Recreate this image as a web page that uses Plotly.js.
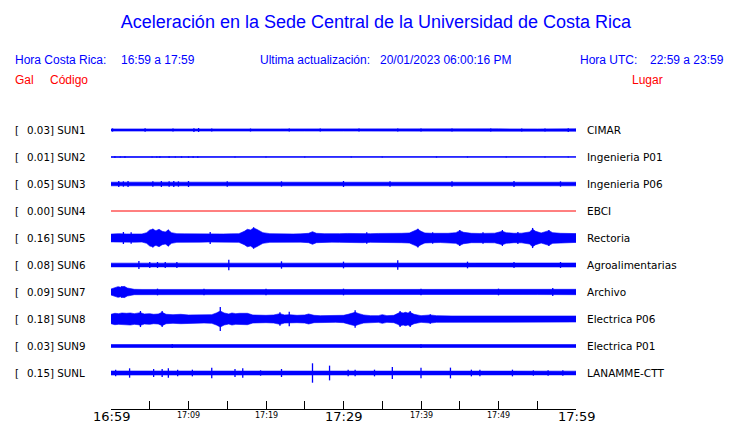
<!DOCTYPE html>
<html><head><meta charset="utf-8">
<script src="https://cdn.plot.ly/plotly-3.0.1.min.js"></script>
<style>html,body{margin:0;padding:0;background:#fff}#c{width:740px;height:423px}</style>
</head><body><div id="c"></div><script>
// ---- data ----
const codes  = ["SUN1","SUN2","SUN3","SUN4","SUN5","SUN6","SUN7","SUN8","SUN9","SUNL"];
const places = ["CIMAR","Ingenieria P01","Ingenieria P06","EBCI","Rectoria","Agroalimentarias","Archivo","Electrica P06","Electrica P01","LANAMME-CTT"];
const galMax = [0.03,0.01,0.05,0.00,0.16,0.08,0.09,0.18,0.03,0.15];

// envelope of the dense body of each record: [minutes after 16:59, half-amplitude in Gal]
const envSUN1 = [[0,0.016],[5,0.017],[10,0.016],[15,0.016],[20,0.017],[25,0.016],[30,0.016],[35,0.017],[40,0.016],[45,0.016],[50,0.017],[55,0.016],[60,0.018]];
const envSUN2 = [[0,0.002],[60,0.002]];
const envSUN3 = [[0,0.027],[1,0.030],[2,0.028],[5,0.028],[8,0.029],[12,0.027],[20,0.027],[30,0.027],[40,0.027],[50,0.027],[60,0.027]];
const envSUN5 = [[0,0.058],[1,0.065],[2,0.060],[3,0.062],[4,0.060],[4.6,0.080],[5.0,0.120],[5.4,0.130],[5.8,0.110],[6.2,0.130],[6.6,0.100],[7.0,0.090],[7.4,0.120],[7.8,0.080],[8.5,0.065],[9.5,0.062],[10.5,0.060],[11.5,0.062],[12.5,0.060],[13.5,0.058],[14.5,0.060],[15.5,0.062],[16.5,0.065],[17.2,0.100],[17.6,0.130],[18.0,0.120],[18.4,0.150],[18.8,0.130],[19.2,0.110],[19.6,0.080],[20.5,0.065],[21.5,0.060],[22.5,0.062],[23.5,0.060],[24.5,0.062],[25.5,0.070],[26.0,0.095],[26.5,0.070],[27.5,0.065],[28.5,0.062],[29.5,0.065],[30.5,0.068],[31.5,0.065],[32.5,0.070],[33.5,0.065],[34.5,0.068],[35.5,0.065],[36.5,0.068],[37.5,0.070],[38.5,0.075],[39.2,0.110],[39.6,0.130],[40.0,0.100],[40.5,0.075],[41.5,0.070],[42.5,0.068],[43.5,0.070],[44.5,0.080],[45.0,0.110],[45.5,0.085],[46.5,0.070],[47.5,0.068],[48.5,0.070],[49.5,0.072],[50.5,0.100],[51.0,0.080],[52.0,0.070],[53.0,0.072],[54.0,0.090],[54.4,0.130],[54.8,0.100],[55.5,0.075],[56.5,0.110],[57.0,0.080],[58.0,0.070],[59.0,0.068],[60,0.066]];
const envSUN6 = [[0,0.028],[3,0.030],[6,0.030],[10,0.028],[20,0.028],[30,0.028],[40,0.028],[50,0.028],[60,0.030]];
const envSUN7 = [[0,0.045],[0.5,0.060],[0.9,0.080],[1.3,0.070],[1.7,0.085],[2.1,0.060],[2.6,0.050],[3.0,0.040],[4,0.038],[6,0.040],[8,0.037],[12,0.038],[20,0.037],[30,0.037],[40,0.037],[50,0.037],[55,0.038],[58,0.042],[60,0.040]];
const envSUN8 = [[0,0.070],[0.5,0.085],[1.0,0.080],[1.4,0.090],[2.0,0.085],[2.5,0.090],[3.0,0.080],[3.5,0.085],[3.8,0.095],[4.3,0.075],[5.0,0.080],[5.5,0.070],[6.1,0.075],[6.6,0.100],[7.1,0.070],[8,0.065],[9,0.070],[10,0.060],[11,0.065],[12,0.060],[13,0.065],[13.6,0.090],[14.1,0.120],[14.6,0.090],[15.2,0.075],[15.6,0.090],[16.1,0.080],[16.6,0.085],[17.1,0.080],[17.6,0.085],[18.3,0.060],[19,0.055],[20,0.055],[21,0.060],[21.8,0.080],[22.4,0.060],[23,0.065],[24,0.055],[25,0.060],[25.5,0.075],[26.2,0.055],[27,0.050],[28,0.050],[29,0.050],[30,0.055],[30.6,0.070],[31.1,0.090],[31.5,0.100],[32,0.080],[32.6,0.060],[33.5,0.050],[34.5,0.050],[35,0.065],[35.6,0.050],[36.5,0.055],[37,0.080],[37.3,0.100],[37.7,0.090],[38,0.100],[38.3,0.090],[38.6,0.100],[39.1,0.070],[40,0.050],[41.2,0.060],[42,0.050],[44,0.045],[46,0.045],[48,0.045],[50,0.045],[52,0.045],[54,0.040],[56,0.040],[58,0.045],[60,0.045]];
const envSUN9 = [[0,0.022],[60,0.022]];
const envSUNL = [[0,0.030],[5,0.030],[10,0.028],[20,0.028],[30,0.028],[40,0.028],[50,0.028],[60,0.028]];

// isolated thin peaks: [minutes, half-amplitude in Gal]
const spkSUN1 = [[0.2,0.024],[4.4,0.026],[8.0,0.022],[10.7,0.028],[11.3,0.030],[13.0,0.024],[18.0,0.022],[23.0,0.024],[27.0,0.022],[32.0,0.024],[37.0,0.022],[40.0,0.024],[44.0,0.022],[49.0,0.024],[53.0,0.022],[56.0,0.024],[59.0,0.028]];
const spkSUN2 = [[0.5,0.010],[1.2,0.009],[1.8,0.010],[5.3,0.009],[5.9,0.008],[6.3,0.010],[7.5,0.010],[8.3,0.009],[9.1,0.010],[10.0,0.009],[10.6,0.010],[11.2,0.010],[16.0,0.008],[20.0,0.009],[25.0,0.008],[31.0,0.009],[35.0,0.008],[42.0,0.009],[46.0,0.008],[51.0,0.009],[56.0,0.008],[59.0,0.009]];
const spkSUN3 = [[1.0,0.045],[1.6,0.040],[2.2,0.045],[5.4,0.040],[6.5,0.045],[7.5,0.040],[8.1,0.045],[8.7,0.040],[10.0,0.045],[15.0,0.040],[22.0,0.040],[30.0,0.045],[36.0,0.040],[44.0,0.040],[52.0,0.045],[58.0,0.040]];
const spkSUN5 = [[1.6,0.090],[2.6,0.085],[5.4,0.140],[7.4,0.125],[12.8,0.090],[18.4,0.160],[33.0,0.085],[39.6,0.140],[41.5,0.085],[45.0,0.120],[48.0,0.085],[50.5,0.120],[52.5,0.090],[54.4,0.150],[56.5,0.120]];
const spkSUN6 = [[3.6,0.060],[5.0,0.045],[6.0,0.045],[7.0,0.045],[8.5,0.045],[15.2,0.080],[22.0,0.055],[30.0,0.050],[37.0,0.070],[46.0,0.050],[52.0,0.045],[58.0,0.045]];
const spkSUN7 = [[1.4,0.090],[6.0,0.050],[12.0,0.050],[20.0,0.050],[30.0,0.050],[40.0,0.050],[50.0,0.050],[57.0,0.060]];
const spkSUN8 = [[3.8,0.120],[6.6,0.120],[14.1,0.180],[21.8,0.100],[23.0,0.110],[31.5,0.130],[37.3,0.120],[38.6,0.120],[41.2,0.070]];
const spkSUN9 = [[7.9,0.030],[40.0,0.028]];
const spkSUNL = [[0.6,0.050],[2.4,0.070],[5.5,0.060],[6.6,0.060],[7.4,0.070],[8.6,0.050],[10.5,0.050],[13.0,0.080],[16.0,0.060],[17.0,0.070],[19.3,0.040],[22.0,0.060],[26.0,0.145],[28.2,0.110],[30.6,0.050],[31.5,0.050],[34.0,0.050],[36.3,0.090],[40.0,0.080],[43.8,0.080],[46.5,0.050],[47.6,0.050],[51.8,0.050],[54.5,0.040],[56.4,0.040],[58.3,0.040]];

const tickMinutes = [0,5,10,15,20,25,30,35,40,45,50,55,60];
const smallTickMinutes = [10,20,40,50];
const smallTickText = ["17:09","17:19","17:39","17:49"];
const bigTickMinutes = [0,30,60];
const bigTickText = ["16:59","17:29","17:59"];

// ---- drawing ----
const envs = [envSUN1,envSUN2,envSUN3,[],envSUN5,envSUN6,envSUN7,envSUN8,envSUN9,envSUNL];
const spks = [spkSUN1,spkSUN2,spkSUN3,[],spkSUN5,spkSUN6,spkSUN7,spkSUN8,spkSUN9,spkSUNL];
const galToRow = 2.48;
const BLUE = "#0000ff", RED = "#ff0000";

const traces = [];
codes.forEach((code, i) => {
  const c = -i;
  const dead = galMax[i] === 0;
  traces.push({x:[0,60], y:[c,c], mode:"lines", line:{color: dead ? RED : BLUE, width:1},
    hoverinfo:"skip", showlegend:false});
  if (dead) return;
  const env = envs[i];
  const ts = env.map(p => p[0]);
  const xs = ts.concat(ts.slice().reverse());
  const up = env.map(p => c + p[1]*galToRow);
  const dn = env.map(p => c - p[1]*galToRow).reverse();
  traces.push({x:xs, y:up.concat(dn), mode:"lines", fill:"toself", fillcolor:BLUE,
    line:{color:BLUE, width:0.6}, hoverinfo:"skip", showlegend:false});
  const sx = [], sy = [];
  spks[i].forEach(p => { sx.push(p[0], p[0], null); sy.push(c + p[1]*galToRow, c - p[1]*galToRow, null); });
  traces.push({x:sx, y:sy, mode:"lines", line:{color:BLUE, width:1.3}, hoverinfo:"skip", showlegend:false, connectgaps:false});
});

const W = 740, H = 423, L = 111, R = 164, T = 115, B = 14;
const pw = W - L - R, ph = H - T - B;
const px = x => (x - L) / pw;
const py = y => (H - B - y) / ph;
const OFF = 2; // annotation inner padding

const ann = [];
const lf = {family:"DejaVu Sans, sans-serif", size:10.3, color:"#000"};
const rfnt = {family:"DejaVu Sans, sans-serif", size:10.5, color:"#000"};
codes.forEach((code, i) => {
  const yc = 130 + 27*i;
  ann.push({xref:"paper", yref:"paper", x:px(15-OFF), y:py(yc), xanchor:"left", yanchor:"middle", text:"[", showarrow:false, font:lf});
  ann.push({xref:"paper", yref:"paper", x:px(27-OFF), y:py(yc), xanchor:"left", yanchor:"middle", text:galMax[i].toFixed(2) + "] " + code, showarrow:false, font:lf});
  ann.push({xref:"paper", yref:"paper", x:px(587-OFF), y:py(yc), xanchor:"left", yanchor:"middle", text:places[i], showarrow:false, font:rfnt});
});
const hf = {family:"Liberation Sans, Arial, sans-serif", size:12, color:BLUE};
const rf = {family:"Liberation Sans, Arial, sans-serif", size:12, color:RED};
const head = [
  [15, 60, "Hora Costa Rica:", hf], [121, 60, "16:59 a 17:59", hf],
  [260, 60, "Ultima actualización:", hf], [380, 60, "20/01/2023 06:00:16 PM", hf],
  [580, 60, "Hora UTC:", hf], [650, 60, "22:59 a 23:59", hf],
  [15, 80, "Gal", rf], [50, 80, "Código", rf], [632, 80, "Lugar", rf]
];
head.forEach(h => ann.push({xref:"paper", yref:"paper", x:px(h[0]-OFF), y:py(h[1]), xanchor:"left", yanchor:"middle", text:h[2], showarrow:false, font:h[3]}));
smallTickMinutes.forEach((m, j) => ann.push({xref:"x", yref:"paper", x:m, y:py(415), xanchor:"center", yanchor:"middle",
  text:smallTickText[j], showarrow:false, font:{family:"DejaVu Sans, sans-serif", size:8, color:"#000"}}));
bigTickMinutes.forEach((m, j) => ann.push({xref:"x", yref:"paper", x:m, y:py(416), xanchor:"center", yanchor:"middle",
  text:bigTickText[j], showarrow:false, font:{family:"DejaVu Sans, sans-serif", size:13, color:"#000"}}));

const layout = {
  width:W, height:H, margin:{l:L, r:R, t:T, b:B, autoexpand:false},
  paper_bgcolor:"#fff", plot_bgcolor:"#fff", showlegend:false,
  title:{text:"Aceleración en la Sede Central de la Universidad de Costa Rica", xref:"paper", x:px(376), xanchor:"center",
    yref:"container", y:1 - 22/H, yanchor:"middle",
    font:{family:"Liberation Sans, Arial, sans-serif", size:18, color:BLUE}},
  xaxis:{range:[0,60], tickmode:"array", tickvals:tickMinutes, showticklabels:false, ticks:"inside", ticklen:8,
    tickcolor:"#000", tickwidth:1, showline:true, linecolor:"#000", linewidth:1, showgrid:false, zeroline:false,
    fixedrange:true, automargin:false},
  yaxis:{range:[-10.3333, 0.5556], visible:false, fixedrange:true},
  annotations:ann
};
Plotly.newPlot("c", traces, layout, {staticPlot:true, displayModeBar:false});
</script></body></html>
